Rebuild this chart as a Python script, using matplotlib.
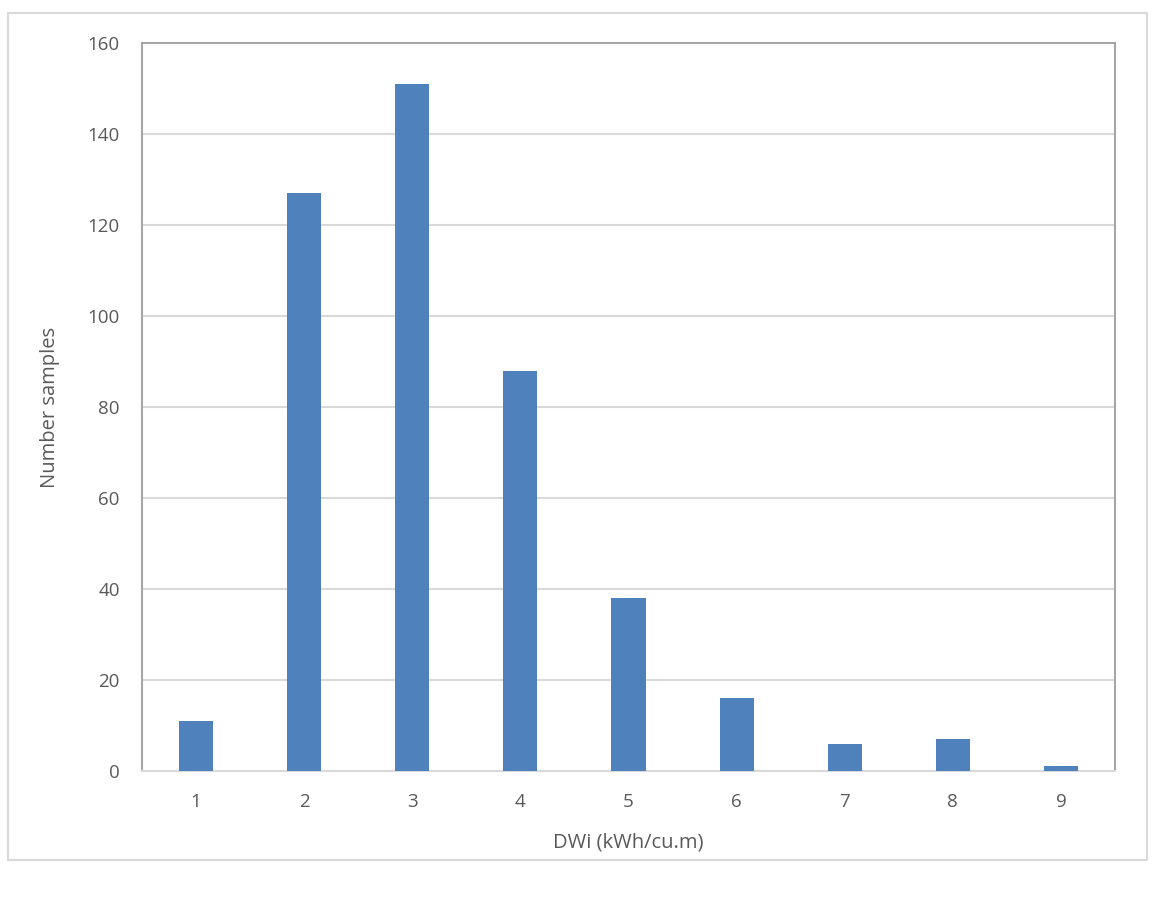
import matplotlib.pyplot as plt
from matplotlib.patches import Rectangle

dwi = [1, 2, 3, 4, 5, 6, 7, 8, 9]
counts = [11, 127, 151, 88, 38, 16, 6, 7, 1]
yticks = [0, 20, 40, 60, 80, 100, 120, 140, 160]

plt.rcParams['font.family'] = ['Open Sans', 'DejaVu Sans']

fig = plt.figure(figsize=(11.55, 8.99), dpi=100)
ax = fig.add_axes([142 / 1155, 1 - 771 / 899, (1115 - 142) / 1155, (771 - 43) / 899])

# outer chart frame
fig.patches.append(Rectangle((8 / 1155, 1 - 860 / 899), (1147 - 8) / 1155, (860 - 13) / 899,
                             transform=fig.transFigure, fill=False, edgecolor='#d9d9d9', lw=1.5))

ax.bar(dwi, counts, width=0.315, color='#4f81bd', zorder=3)

ax.set_xlim(0.5, 9.5)
ax.set_ylim(0, 160)
ax.set_xticks(dwi)
ax.set_yticks(yticks)
ax.grid(axis='y', color='#d9d9d9', lw=1.5, zorder=0)
for s in ['left', 'top', 'right']:
    ax.spines[s].set_color('#a6a6a6')
    ax.spines[s].set_linewidth(1.5)
ax.spines['bottom'].set_color('#d9d9d9')
ax.spines['bottom'].set_linewidth(1.5)
ax.tick_params(length=0, labelsize=13.5, colors='#595959')
ax.tick_params(axis='x', pad=16)
ax.tick_params(axis='y', pad=16)

ax.set_xlabel("DWi (kWh/cu.m)", fontsize=14.5, color='#595959', labelpad=15)
ax.set_ylabel("Number samples", fontsize=14.5, color='#595959', labelpad=20)

fig.savefig("out.png", dpi=100)
